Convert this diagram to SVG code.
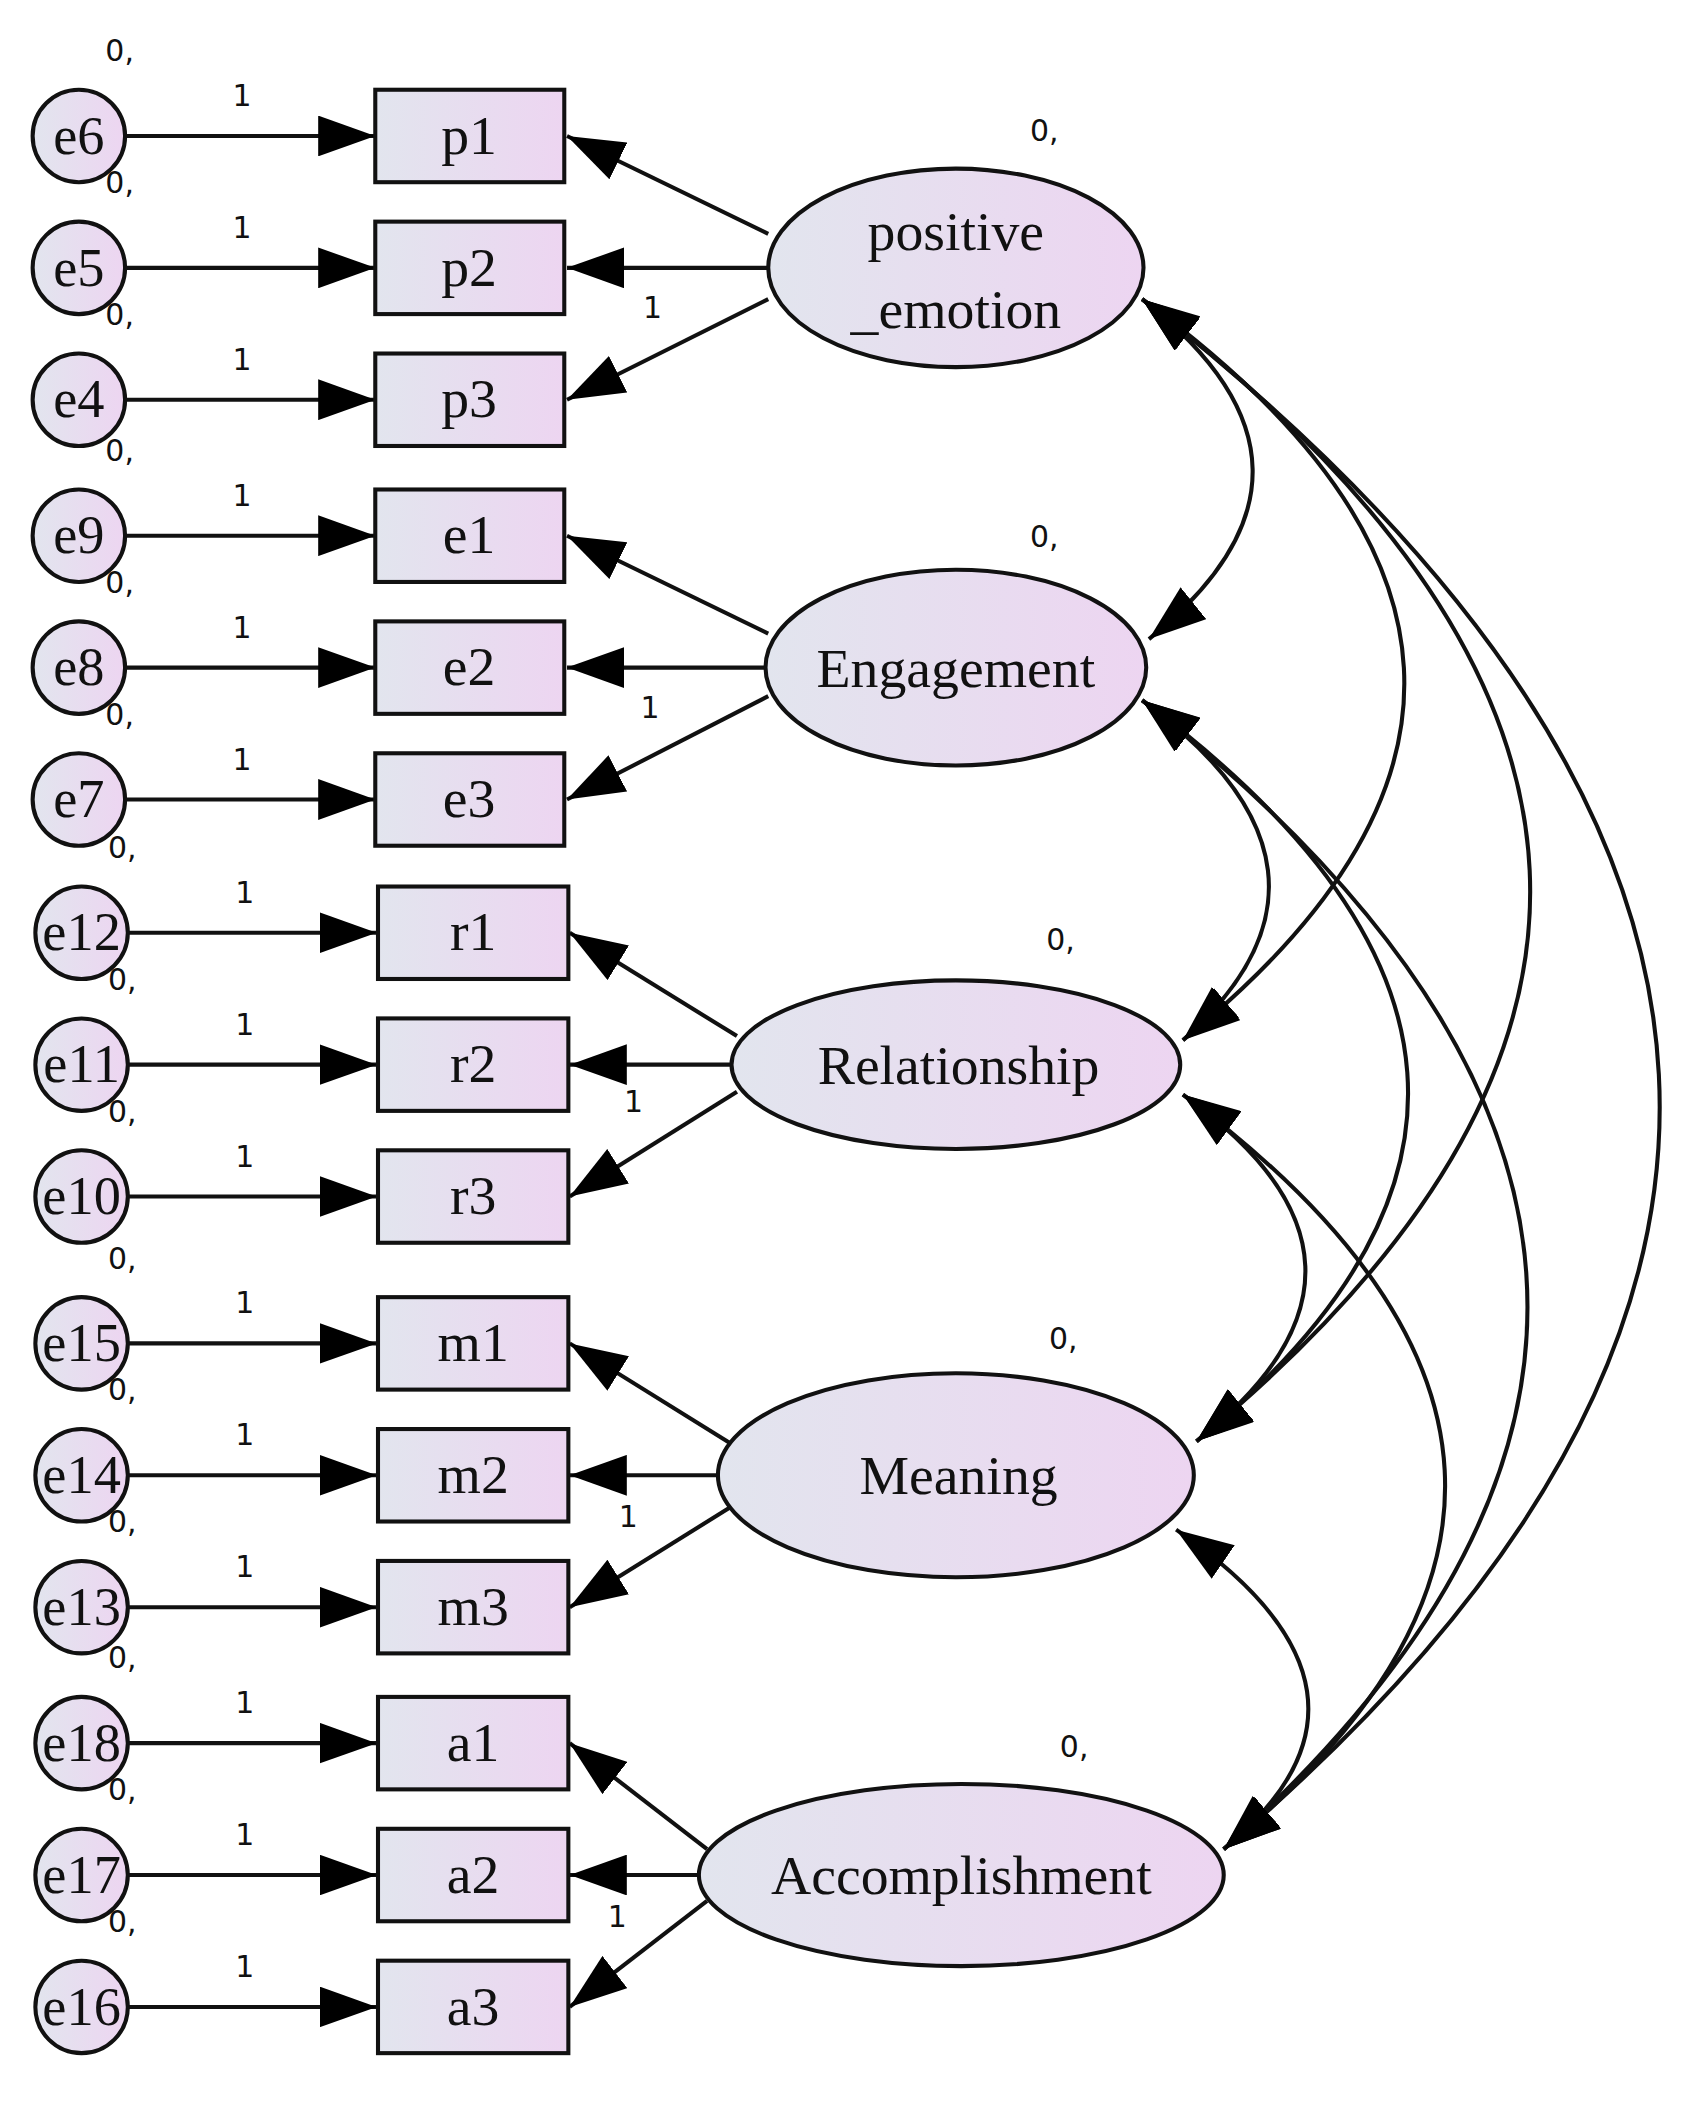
<svg xmlns="http://www.w3.org/2000/svg" width="1686" height="2103" viewBox="0 0 1686 2103">
<style>
.n{stroke:#111;stroke-width:3;fill:url(#g)}
.t{font-family:"Liberation Serif",serif;font-size:41px;text-anchor:middle;fill:#111}
.t2{font-family:"Liberation Serif",serif;font-size:40px;text-anchor:middle;fill:#111}
.s{font-family:"DejaVu Sans",sans-serif;font-size:22px;text-anchor:middle;fill:#111}
.c{stroke:#111;stroke-width:3;fill:none}
.a{marker-end:url(#m)}
.d{marker-end:url(#m);marker-start:url(#m)}
</style>
<defs>
<linearGradient id="g" x1="0" y1="0" x2="1" y2="0"><stop offset="0" stop-color="#e2e5ee"/><stop offset="1" stop-color="#edd5f1"/></linearGradient>
<marker id="m" markerUnits="userSpaceOnUse" markerWidth="44" markerHeight="30" refX="42" refY="15" orient="auto-start-reverse"><path d="M0,0 L42,15 L0,30 z" fill="#000"/></marker>
</defs>
<rect width="1686" height="2103" fill="#fff"/>
<g transform="scale(1.3597)">
<g id="connectors">
<path class="c a" d="M93,100H276"/><path class="c a" d="M93,197H276"/><path class="c a" d="M93,294H276"/>
<path class="c a" d="M93,394H276"/><path class="c a" d="M93,491H276"/><path class="c a" d="M93,588H276"/>
<path class="c a" d="M93,686H277"/><path class="c a" d="M93,783H277"/><path class="c a" d="M93,880H277"/>
<path class="c a" d="M93,988H277"/><path class="c a" d="M93,1085H277"/><path class="c a" d="M93,1182H277"/>
<path class="c a" d="M93,1282H277"/><path class="c a" d="M93,1379H277"/><path class="c a" d="M93,1476H277"/>
<path class="c a" d="M565,172L417,100"/><path class="c a" d="M565,197H417"/><path class="c a" d="M565,220L417,294"/>
<path class="c a" d="M565,466L417,394"/><path class="c a" d="M563,491H417"/><path class="c a" d="M565,512L417,588"/>
<path class="c a" d="M542,762L419,686"/><path class="c a" d="M540,783H419"/><path class="c a" d="M542,803L419,880"/>
<path class="c a" d="M538,1062L419,988"/><path class="c a" d="M530,1085H419"/><path class="c a" d="M538,1108L419,1182"/>
<path class="c a" d="M520,1360L419,1282"/><path class="c a" d="M513,1379H419"/><path class="c a" d="M520,1398L419,1476"/>
<path class="c d" d="M840,220Q1000,345 845,470"/>
<path class="c d" d="M840,220Q1210,490 870,765"/>
<path class="c d" d="M840,220Q1390,640 880,1060"/>
<path class="c d" d="M840,220Q1570,790 900,1360"/>
<path class="c d" d="M840,515Q1010,640 870,765"/>
<path class="c d" d="M840,515Q1210,790 880,1060"/>
<path class="c d" d="M840,515Q1375,935 900,1360"/>
<path class="c d" d="M870,805Q1045,930 880,1060"/>
<path class="c d" d="M870,805Q1240,1080 900,1360"/>
<path class="c d" d="M865,1125Q1040,1245 900,1360"/>
</g>
<g class="s">
<text x="178" y="78">1</text><text x="178" y="175">1</text><text x="178" y="272">1</text>
<text x="178" y="372">1</text><text x="178" y="469">1</text><text x="178" y="566">1</text>
<text x="180" y="664">1</text><text x="180" y="761">1</text><text x="180" y="858">1</text>
<text x="180" y="966">1</text><text x="180" y="1063">1</text><text x="180" y="1160">1</text>
<text x="180" y="1260">1</text><text x="180" y="1357">1</text><text x="180" y="1454">1</text>
<text x="480" y="234">1</text><text x="478" y="528">1</text><text x="466" y="818">1</text><text x="462" y="1123">1</text><text x="454" y="1417">1</text>
</g>
<g id="errors">
<g id="e6"><circle class="n" cx="58" cy="100" r="34"/><text class="t2" x="58" y="113">e6</text><text class="s" x="88" y="45">0,</text></g>
<g id="e5"><circle class="n" cx="58" cy="197" r="34"/><text class="t2" x="58" y="210">e5</text><text class="s" x="88" y="142">0,</text></g>
<g id="e4"><circle class="n" cx="58" cy="294" r="34"/><text class="t2" x="58" y="307">e4</text><text class="s" x="88" y="239">0,</text></g>
<g id="e9"><circle class="n" cx="58" cy="394" r="34"/><text class="t2" x="58" y="407">e9</text><text class="s" x="88" y="339">0,</text></g>
<g id="e8"><circle class="n" cx="58" cy="491" r="34"/><text class="t2" x="58" y="504">e8</text><text class="s" x="88" y="436">0,</text></g>
<g id="e7"><circle class="n" cx="58" cy="588" r="34"/><text class="t2" x="58" y="601">e7</text><text class="s" x="88" y="533">0,</text></g>
<g id="e12"><circle class="n" cx="60" cy="686" r="34"/><text class="t2" x="60" y="699">e12</text><text class="s" x="90" y="631">0,</text></g>
<g id="e11"><circle class="n" cx="60" cy="783" r="34"/><text class="t2" x="60" y="796">e11</text><text class="s" x="90" y="728">0,</text></g>
<g id="e10"><circle class="n" cx="60" cy="880" r="34"/><text class="t2" x="60" y="893">e10</text><text class="s" x="90" y="825">0,</text></g>
<g id="e15"><circle class="n" cx="60" cy="988" r="34"/><text class="t2" x="60" y="1001">e15</text><text class="s" x="90" y="933">0,</text></g>
<g id="e14"><circle class="n" cx="60" cy="1085" r="34"/><text class="t2" x="60" y="1098">e14</text><text class="s" x="90" y="1030">0,</text></g>
<g id="e13"><circle class="n" cx="60" cy="1182" r="34"/><text class="t2" x="60" y="1195">e13</text><text class="s" x="90" y="1127">0,</text></g>
<g id="e18"><circle class="n" cx="60" cy="1282" r="34"/><text class="t2" x="60" y="1295">e18</text><text class="s" x="90" y="1227">0,</text></g>
<g id="e17"><circle class="n" cx="60" cy="1379" r="34"/><text class="t2" x="60" y="1392">e17</text><text class="s" x="90" y="1324">0,</text></g>
<g id="e16"><circle class="n" cx="60" cy="1476" r="34"/><text class="t2" x="60" y="1489">e16</text><text class="s" x="90" y="1421">0,</text></g>
</g>
<g id="observed">
<g id="p1"><rect class="n" x="276" y="66" width="139" height="68"/><text class="t" x="345" y="113">p1</text></g>
<g id="p2"><rect class="n" x="276" y="163" width="139" height="68"/><text class="t" x="345" y="210">p2</text></g>
<g id="p3"><rect class="n" x="276" y="260" width="139" height="68"/><text class="t" x="345" y="307">p3</text></g>
<g id="e1"><rect class="n" x="276" y="360" width="139" height="68"/><text class="t" x="345" y="407">e1</text></g>
<g id="e2"><rect class="n" x="276" y="457" width="139" height="68"/><text class="t" x="345" y="504">e2</text></g>
<g id="e3"><rect class="n" x="276" y="554" width="139" height="68"/><text class="t" x="345" y="601">e3</text></g>
<g id="r1"><rect class="n" x="278" y="652" width="140" height="68"/><text class="t" x="348" y="699">r1</text></g>
<g id="r2"><rect class="n" x="278" y="749" width="140" height="68"/><text class="t" x="348" y="796">r2</text></g>
<g id="r3"><rect class="n" x="278" y="846" width="140" height="68"/><text class="t" x="348" y="893">r3</text></g>
<g id="m1"><rect class="n" x="278" y="954" width="140" height="68"/><text class="t" x="348" y="1001">m1</text></g>
<g id="m2"><rect class="n" x="278" y="1051" width="140" height="68"/><text class="t" x="348" y="1098">m2</text></g>
<g id="m3"><rect class="n" x="278" y="1148" width="140" height="68"/><text class="t" x="348" y="1195">m3</text></g>
<g id="a1"><rect class="n" x="278" y="1248" width="140" height="68"/><text class="t" x="348" y="1295">a1</text></g>
<g id="a2"><rect class="n" x="278" y="1345" width="140" height="68"/><text class="t" x="348" y="1392">a2</text></g>
<g id="a3"><rect class="n" x="278" y="1442" width="140" height="68"/><text class="t" x="348" y="1489">a3</text></g>
</g>
<g id="latent">
<g id="positive_emotion"><ellipse class="n" cx="703" cy="197" rx="138" ry="73"/><text class="t" x="703" y="184">positive</text><text class="t" x="703" y="241">_emotion</text><text class="s" x="768" y="104">0,</text></g>
<g id="Engagement"><ellipse class="n" cx="703" cy="491" rx="140" ry="72"/><text class="t" x="703" y="505">Engagement</text><text class="s" x="768" y="402">0,</text></g>
<g id="Relationship"><ellipse class="n" cx="703" cy="783" rx="165" ry="62"/><text class="t" x="705" y="797">Relationship</text><text class="s" x="780" y="699">0,</text></g>
<g id="Meaning"><ellipse class="n" cx="703" cy="1085" rx="175" ry="75"/><text class="t" x="705" y="1099">Meaning</text><text class="s" x="782" y="992">0,</text></g>
<g id="Accomplishment"><ellipse class="n" cx="707" cy="1379" rx="193" ry="67"/><text class="t" x="707" y="1393">Accomplishment</text><text class="s" x="790" y="1292">0,</text></g>
</g>
</g>
</svg>
